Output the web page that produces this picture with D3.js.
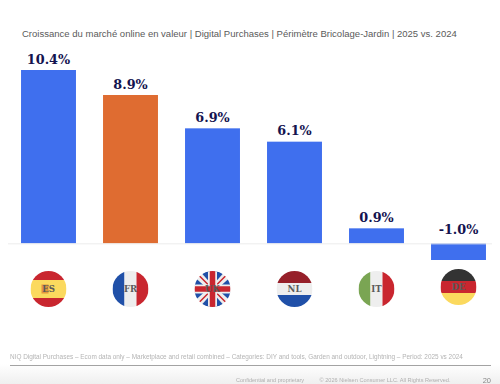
<!DOCTYPE html>
<html>
<head>
<meta charset="utf-8">
<script src="https://cdn.jsdelivr.net/npm/d3@7"></script>
<style>
  html, body { margin: 0; padding: 0; background: #fff; }
  svg { display: block; }
  text { font-family: "Liberation Sans", Arial, sans-serif; }
</style>
</head>
<body>
<svg id="chart"></svg>
<script>
const countries = ["ES", "FR", "UK", "NL", "IT", "DE"];
const growth = [10.4, 8.9, 6.9, 6.1, 0.9, -1.0];
const growth_labels = ["10.4%", "8.9%", "6.9%", "6.1%", "0.9%", "-1.0%"];
const highlighted = "FR";

const title_text = "Croissance du marché online en valeur | Digital Purchases | Périmètre Bricolage-Jardin | 2025 vs. 2024";
const source_text = "NIQ Digital Purchases – Ecom data only – Marketplace and retail combined – Categories: DIY and tools, Garden and outdoor, Lightning – Period: 2025 vs 2024";
const confidential_text = "Confidential and proprietary";
const copyright_text = "© 2026 Nielsen Consumer LLC. All Rights Reserved.";
const page_number = "20";

const width = 500, height = 384;
const svg = d3.select("#chart").attr("width", width).attr("height", height);

let defs = svg.append("defs");
let fade = defs.append("linearGradient").attr("id", "fade")
  .attr("x1", 0).attr("x2", 0).attr("y1", 0).attr("y2", 1);
fade.append("stop").attr("offset", 0).attr("stop-color", "#fff");
fade.append("stop").attr("offset", 1).attr("stop-color", "#efefef");
defs.append("filter").attr("id", "soft")
  .append("feGaussianBlur").attr("stdDeviation", 0.35);

// bottom of the slide fades to grey
svg.append("rect").attr("x", 0).attr("y", 364).attr("width", width).attr("height", 20)
  .attr("fill", "url(#fade)");

const x = d3.scaleBand().domain(countries).range([7.5, 499.5]).paddingInner(0.33).paddingOuter(0.165);
const y = d3.scaleLinear().domain([-1, 10.4]).range([260, 70]);

svg.append("text").attr("x", 22).attr("y", 37)
  .attr("font-size", 9.53).attr("fill", "#5a5a5a")
  .text(title_text);

svg.selectAll("rect.bar").data(countries).enter().append("rect").classed("bar", true)
  .attr("x", d => x(d))
  .attr("width", x.bandwidth())
  .attr("y", (d, i) => y(Math.max(growth[i], 0)))
  .attr("height", (d, i) => Math.abs(y(growth[i]) - y(0)))
  .attr("fill", d => d == highlighted ? "#df6c31" : "#3f6fee");

svg.append("line")
  .attr("x1", 8).attr("x2", 492)
  .attr("y1", y(0) + 0.5).attr("y2", y(0) + 0.5)
  .attr("stroke", "#ececec");

svg.selectAll("text.value").data(countries).enter().append("text").classed("value", true)
  .attr("x", d => x(d) + x.bandwidth() / 2)
  .attr("y", (d, i) => y(Math.max(growth[i], 0)) - (growth[i] < 0 ? 9.5 : 6.5))
  .attr("text-anchor", "middle")
  .attr("font-size", 12.8).attr("font-weight", "bold")
  .style("font-family", "'DejaVu Serif', serif")
  .attr("fill", "#14134f")
  .text((d, i) => growth_labels[i]);

// flag stripes: direction and colours
const flag_stripes = {
  ES: {dir: "h", colors: ["#c9262f", "#fbd95e", "#fbd95e", "#c9262f"]},
  FR: {dir: "v", colors: ["#2050a8", "#eeeeee", "#c9262f"]},
  UK: {dir: "h", colors: ["#eeeeee"]},
  NL: {dir: "h", colors: ["#96202a", "#eeeeee", "#2050a8"]},
  IT: {dir: "v", colors: ["#7aa553", "#eeeeee", "#c9262f"]},
  DE: {dir: "h", colors: ["#333333", "#c9262f", "#fbd95e"]}
};
const flag_y = {ES: 289, FR: 289, UK: 289, NL: 289, IT: 289, DE: 287};
const flag_r = 18;

countries.forEach(code => {
  defs.append("clipPath").attr("id", `clip-${code}`)
    .append("circle").attr("r", flag_r);

  let g = svg.append("g")
    .attr("transform", `translate(${x(code) + x.bandwidth() / 2},${flag_y[code]})`);
  let flag = g.append("g").attr("clip-path", `url(#clip-${code})`);
  let spec = flag_stripes[code];
  let stripe = d3.scaleBand().domain(d3.range(spec.colors.length)).range([-flag_r, flag_r]);

  flag.selectAll("rect").data(spec.colors).enter().append("rect")
    .attr("x", (c, i) => spec.dir == "v" ? stripe(i) : -flag_r)
    .attr("y", (c, i) => spec.dir == "h" ? stripe(i) : -flag_r)
    .attr("width", spec.dir == "v" ? stripe.bandwidth() : flag_r * 2)
    .attr("height", spec.dir == "h" ? stripe.bandwidth() : flag_r * 2)
    .attr("fill", c => c);

  if (code == "UK") {
    // union jack, diagonals then cross
    let blue = flag.append("g");
    [[-1, -1], [1, -1], [-1, 1], [1, 1]].forEach(([sx, sy]) => {
      blue.append("path")
        .attr("d", `M${sx * 3},${sy * 18}L${sx * 3},${sy * 7}L${sx * 11},${sy * 16}Z`)
        .attr("fill", "#2050a8");
      blue.append("path")
        .attr("d", `M${sx * 18},${sy * 3}L${sx * 8},${sy * 3}L${sx * 17},${sy * 11}Z`)
        .attr("fill", "#2050a8");
    });
    flag.append("path").attr("d", "M-18,-18L18,18M18,-18L-18,18")
      .attr("stroke", "#c9262f").attr("stroke-width", 1.5);
    flag.append("path").attr("d", "M0,-18V18M-18,0H18")
      .attr("stroke", "#eeeeee").attr("stroke-width", 9);
    flag.append("path").attr("d", "M0,-18V18M-18,0H18")
      .attr("stroke", "#c9262f").attr("stroke-width", 5.5);
  }
  if (code == "ES") {
    // coat of arms, left of centre
    flag.append("rect").attr("x", -7).attr("y", -4.5).attr("width", 7).attr("height", 9)
      .attr("fill", "#d9792f").attr("opacity", 0.7);
  }

  g.append("text")
    .attr("text-anchor", "middle").attr("y", 3)
    .attr("font-size", 8.6).attr("font-weight", "bold")
    .style("font-family", "'DejaVu Serif', serif")
    .attr("fill", "#5a5a5a")
    .text(code);
});

let footer = svg.append("g").attr("filter", "url(#soft)");

footer.append("text").attr("x", 10).attr("y", 359)
  .attr("font-size", 6.43).attr("fill", "#b4b4b4")
  .text(source_text);

svg.append("line").attr("x1", 10).attr("x2", 491).attr("y1", 365.5).attr("y2", 365.5)
  .attr("stroke", "#8c8c8c").attr("stroke-width", 0.8);

footer.append("text").attr("x", 236).attr("y", 382)
  .attr("font-size", 5.55).attr("fill", "#b0b0b0")
  .text(confidential_text);

footer.append("text").attr("x", 319.5).attr("y", 382)
  .attr("font-size", 5.6).attr("fill", "#b0b0b0")
  .text(copyright_text);

footer.append("text").attr("x", 491).attr("y", 383)
  .attr("text-anchor", "end")
  .attr("font-size", 7.5).attr("fill", "#888")
  .text(page_number);
</script>
</body>
</html>
